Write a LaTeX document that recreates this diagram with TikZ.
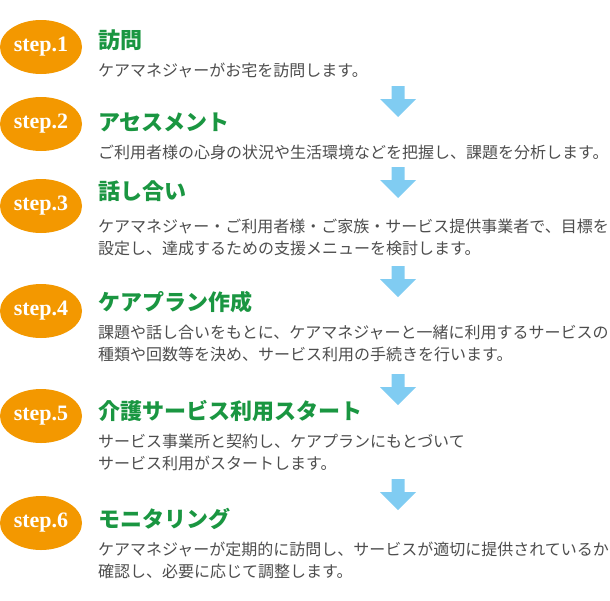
\documentclass[tikz,border=0pt]{standalone}
\usepackage{fontspec}
\usepackage{xcolor}
\usepackage{tikz}
\usetikzlibrary{positioning,shapes.geometric}

\newfontfamily\jpfont{Noto Sans CJK JP}
\newfontfamily\stepfont{Liberation Serif}

\definecolor{steporange}{HTML}{F39800}
\definecolor{titlegreen}{HTML}{1A9641}
\definecolor{descgray}{HTML}{4D4D4D}
\definecolor{arrowblue}{HTML}{80CCF2}

\begin{document}
\begin{tikzpicture}[
    x=1pt, y=-1pt,
    stepmark/.style={ellipse, fill=steporange, inner sep=0pt, minimum width=82pt, minimum height=54pt,
                     text=white, font=\stepfont\bfseries\fontsize{22}{22}\selectfont},
    title/.style={anchor=west, inner sep=0pt, text=titlegreen, font=\jpfont\bfseries\fontsize{22}{24}\selectfont},
    desc/.style={anchor=west, inner sep=0pt, align=left, text=descgray, font=\jpfont\fontsize{16}{22}\selectfont},
    flowarrow/.pic={\fill[arrowblue] (-6.5,0) -- (6.5,0) -- (6.5,13) -- (18,13) -- (0,31) -- (-18,13) -- (-6.5,13) -- cycle;}
]
    \useasboundingbox (0,0) rectangle (610,600);

    % step 1
    \node[stepmark] (s1) at (41,47)  {step.1};
    \node[title]    (t1) at (98,40)  {訪問};
    \node[desc]     (d1) at (98,70)  {ケアマネジャーがお宅を訪問します。};
    \pic at (398,86) {flowarrow};

    % step 2
    \node[stepmark] (s2) at (41,124) {step.2};
    \node[title]    (t2) at (98,122) {アセスメント};
    \node[desc]     (d2) at (98,152) {ご利用者様の心身の状況や生活環境などを把握し、課題を分析します。};
    \pic at (398,167) {flowarrow};

    % step 3
    \node[stepmark] (s3) at (41,206) {step.3};
    \node[title]    (t3) at (98,191) {話し合い};
    \node[desc]     (d3) at (98,237) {ケアマネジャー・ご利用者様・ご家族・サービス提供事業者で、目標を\\設定し、達成するための支援メニューを検討します。};
    \pic at (398,266) {flowarrow};

    % step 4
    \node[stepmark] (s4) at (41,311) {step.4};
    \node[title]    (t4) at (98,302) {ケアプラン作成};
    \node[desc]     (d4) at (98,343) {課題や話し合いをもとに、ケアマネジャーと一緒に利用するサービスの\\種類や回数等を決め、サービス利用の手続きを行います。};
    \pic at (398,374) {flowarrow};

    % step 5
    \node[stepmark] (s5) at (41,416) {step.5};
    \node[title]    (t5) at (98,411) {介護サービス利用スタート};
    \node[desc]     (d5) at (98,452) {サービス事業所と契約し、ケアプランにもとづいて\\サービス利用がスタートします。};
    \pic at (398,479) {flowarrow};

    % step 6
    \node[stepmark] (s6) at (41,523) {step.6};
    \node[title]    (t6) at (98,519) {モニタリング};
    \node[desc]     (d6) at (98,560) {ケアマネジャーが定期的に訪問し、サービスが適切に提供されているか\\確認し、必要に応じて調整します。};
\end{tikzpicture}
\end{document}
